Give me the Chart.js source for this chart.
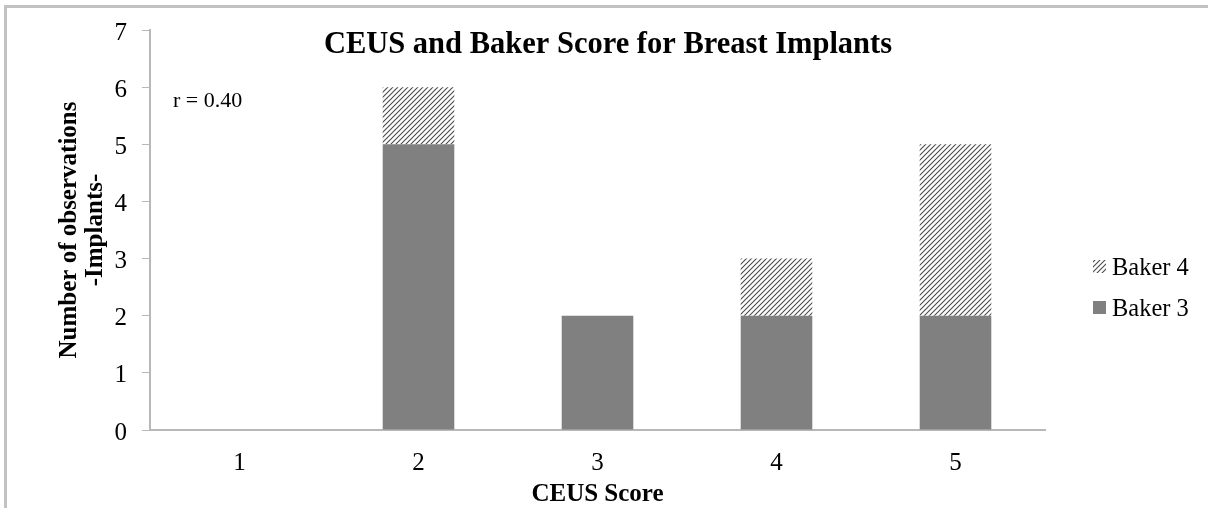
<!DOCTYPE html>
<html>
<head>
<meta charset="utf-8">
<script src="https://cdn.jsdelivr.net/npm/chart.js@4.4.1/dist/chart.umd.min.js"></script>
<style>
  html, body { margin: 0; padding: 0; background: #fff; }
  #wrap { width: 1208px; height: 508px; position: relative; }
</style>
</head>
<body>
<div id="wrap"><canvas id="chart" width="1208" height="508"></canvas></div>
<script>
// data
var categories = ['1', '2', '3', '4', '5'];
var baker3 = [0, 5, 2, 2, 2];
var baker4 = [0, 1, 0, 1, 3];
var yTicks = [0, 1, 2, 3, 4, 5, 6, 7];
var seriesNames = ['Baker 3', 'Baker 4'];

var SERIF = "'Liberation Serif', 'Times New Roman', serif";
var AXIS_GREY = '#b8b8b8';

// diagonal hatch (///) for Baker 4
function makeHatch() {
  var s = 5;
  var c = document.createElement('canvas');
  c.width = s; c.height = s;
  var g = c.getContext('2d');
  g.fillStyle = '#ffffff';
  g.fillRect(0, 0, s, s);
  g.strokeStyle = '#4a4a4a';
  g.lineWidth = 1.1;
  g.beginPath();
  g.moveTo(0, s); g.lineTo(s, 0);
  g.moveTo(-1, 1); g.lineTo(1, -1);
  g.moveTo(s - 1, s + 1); g.lineTo(s + 1, s - 1);
  g.stroke();
  return document.getElementById('chart').getContext('2d').createPattern(c, 'repeat');
}
var hatch = makeHatch();

// title, note, legend and the frame drawn round the chart
var decor = {
  id: 'decor',
  beforeDraw: function(chart) {
    var ctx = chart.ctx;
    ctx.save();
    ctx.fillStyle = '#ffffff';
    ctx.fillRect(0, 0, chart.width, chart.height);
    ctx.fillStyle = '#c2c2c2';
    ctx.fillRect(4, 5, chart.width, 3);
    ctx.fillRect(4, 5, 3, chart.height);
    ctx.restore();
  },
  afterDraw: function(chart) {
    var ctx = chart.ctx;
    ctx.save();
    ctx.fillStyle = '#000';
    ctx.textBaseline = 'middle';

    ctx.font = 'bold 30.5px ' + SERIF;
    ctx.textAlign = 'center';
    ctx.fillText('CEUS and Baker Score for Breast Implants', 608, 45);

    ctx.font = '22px ' + SERIF;
    ctx.textAlign = 'left';
    ctx.fillText('r = 0.40', 173, 101);

    // legend, Baker 4 above Baker 3
    var rows = [
      { label: seriesNames[1], fill: hatch, y: 266 },
      { label: seriesNames[0], fill: '#808080', y: 307 }
    ];
    ctx.font = '24.5px ' + SERIF;
    rows.forEach(function(r) {
      ctx.fillStyle = r.fill;
      ctx.fillRect(1093, r.y - 6, 13, 13);
      ctx.fillStyle = '#000';
      ctx.fillText(r.label, 1112, r.y + 3);
    });
    ctx.restore();
  }
};

new Chart(document.getElementById('chart'), {
  type: 'bar',
  data: {
    labels: categories,
    datasets: [
      { label: seriesNames[0], data: baker3, backgroundColor: '#808080', borderWidth: 0 },
      { label: seriesNames[1], data: baker4, backgroundColor: hatch, borderWidth: 0 }
    ]
  },
  options: {
    responsive: false,
    animation: false,
    events: [],
    layout: { padding: { top: 28, right: 163, bottom: 0, left: 0 } },
    datasets: { bar: { categoryPercentage: 1.0, barPercentage: 0.4 } },
    plugins: {
      legend: { display: false },
      title: { display: false },
      tooltip: { enabled: false }
    },
    scales: {
      x: {
        stacked: true,
        grid: { display: true, drawOnChartArea: false, drawTicks: false, color: AXIS_GREY },
        border: { display: true, color: AXIS_GREY, width: 2 },
        ticks: { color: '#000', font: { family: SERIF, size: 25 }, padding: 18 },
        title: {
          display: true,
          text: 'CEUS Score',
          color: '#000',
          font: { family: SERIF, size: 25, weight: 'bold', lineHeight: 1.2 },
          padding: { top: 0, bottom: -2 }
        },
        afterFit: function(s) { s.height = 78; }
      },
      y: {
        stacked: true,
        min: 0,
        max: 7,
        afterBuildTicks: function(s) {
          s.ticks = yTicks.map(function(v) { return { value: v }; });
        },
        grid: { display: true, drawOnChartArea: false, drawTicks: true, tickLength: 8, color: AXIS_GREY },
        border: { display: true, color: AXIS_GREY, width: 2 },
        ticks: { color: '#000', font: { family: SERIF, size: 25 }, padding: 15, labelOffset: 3 },
        title: {
          display: true,
          text: ['Number of observations', '-Implants-'],
          color: '#000',
          font: { family: SERIF, size: 25, weight: 'bold', lineHeight: 1.05 },
          padding: { top: 56, bottom: 0 }
        },
        afterFit: function(s) { s.width = 150; }
      }
    }
  },
  plugins: [decor]
});
</script>
</body>
</html>
